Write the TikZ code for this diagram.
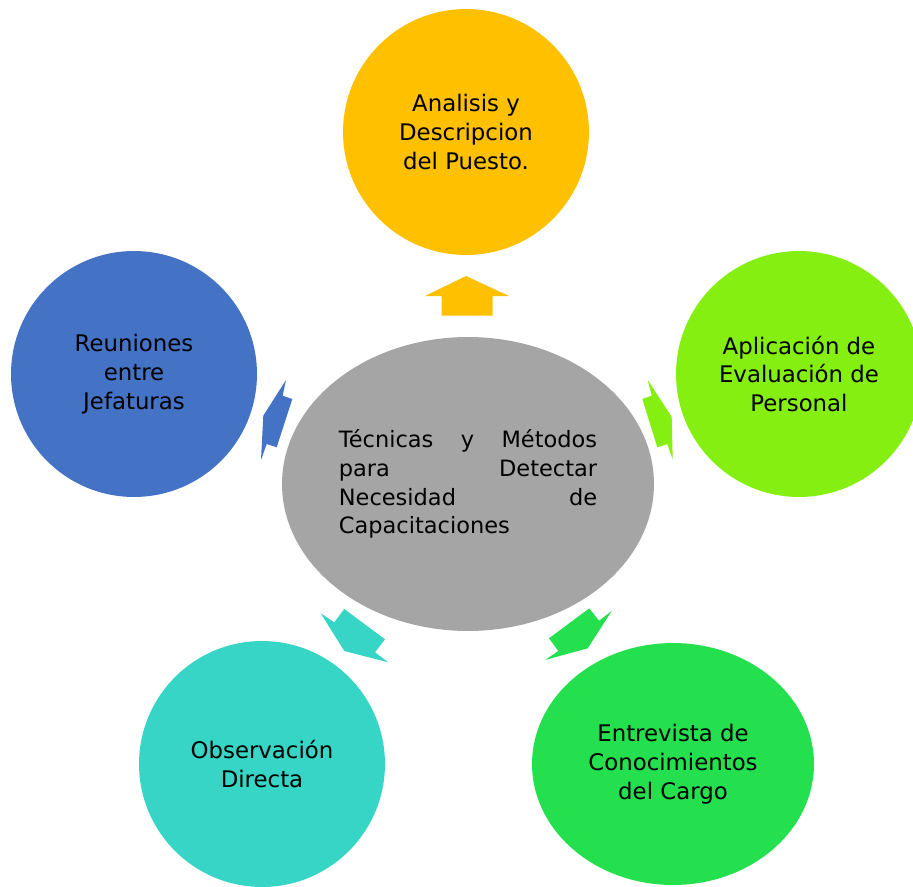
\documentclass[tikz,border=0pt]{standalone}
\usepackage{fontspec}
\setmainfont{DejaVu Sans}
\usetikzlibrary{shapes.geometric}
\definecolor{gold}{HTML}{FFC000}
\definecolor{lime}{HTML}{86EF12}
\definecolor{leaf}{HTML}{24E04E}
\definecolor{aqua}{HTML}{36D5C6}
\definecolor{steel}{HTML}{4472C4}
\definecolor{stone}{HTML}{A5A5A5}
\begin{document}
\begin{tikzpicture}[x=0.02cm,y=-0.02cm,
    bubble/.style={circle,minimum size=4.92cm,inner sep=0pt,align=center,
        font=\fontsize{13}{16.4}\selectfont}]
\useasboundingbox (0,0) rectangle (913,886);
\clip (0,0) rectangle (913,886);

\node[ellipse,fill=stone,minimum width=7.44cm,minimum height=5.88cm,inner sep=0pt,
    text width=147pt,align=left,font=\fontsize{12.8}{16.4}\selectfont] (centro) at (468,484)
    {T\'ecnicas\hfill y\hfill M\'etodos\\para\hfill Detectar\\Necesidad\hfill de\\Capacitaciones};

\node[bubble,fill=gold]  (puesto)     at (466,132) {Analisis y\\Descripcion\\del Puesto.};
\node[bubble,fill=lime]  (evaluacion) at (799,374) {Aplicaci\'on de\\Evaluaci\'on de\\Personal};
\node[bubble,ellipse,fill=leaf,minimum width=5.64cm,minimum height=4.84cm]
                         (entrevista) at (673,764) {Entrevista de\\Conocimientos\\del Cargo};
\node[bubble,fill=aqua]  (observa)    at (262,764) {Observaci\'on\\Directa};
\node[bubble,fill=steel] (reuniones)  at (134,374) {Reuniones\\entre\\Jefaturas};

\fill[gold]  (466,276) -- (509,296) -- (492.7,296) -- (492.7,315.7) -- (441.7,315.7) -- (441.7,296) -- (425,296) -- cycle;
\fill[lime]  (647.7,380) -- (651.7,395.7) -- (642.3,399) -- (657.3,447.3) -- (667.3,444) -- (672.7,459.3) -- (671.7,416.7) -- cycle;
\fill[leaf]  (611.7,611) -- (599,620.7) -- (589.3,608.3) -- (549,638.3) -- (558.3,651) -- (545,660) -- (587.7,648.3) -- cycle;
\fill[aqua]  (320.7,613.3) -- (334.3,622.3) -- (344.3,609) -- (385,639.3) -- (375,652.3) -- (388.3,662.3) -- (344.3,651) -- cycle;
\fill[steel] (286,380) -- (282.7,395.7) -- (292.3,399) -- (276.7,447.3) -- (266.7,444) -- (261,460) -- (263.3,415.7) -- cycle;
\end{tikzpicture}
\end{document}
